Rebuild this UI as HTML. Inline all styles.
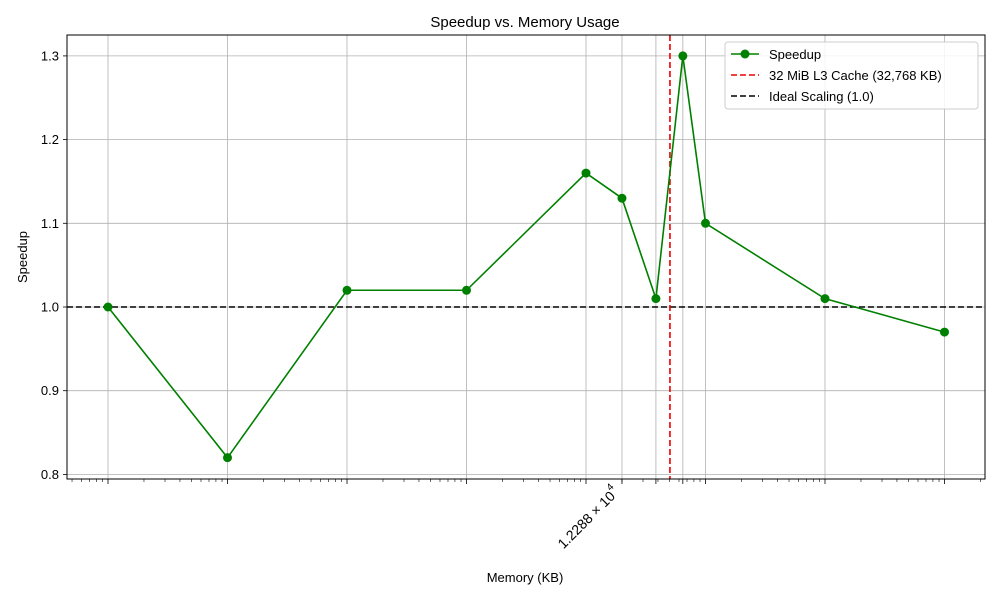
<!DOCTYPE html>
<html><head><meta charset="utf-8"><style>body{margin:0;background:#fff}svg{font-family:"Liberation Sans","DejaVu Sans",sans-serif}</style></head>
<body>
<svg id="chart" width="1000" height="600"></svg>
<script>
const memoryKB=[0.65,6.5,65,650,6500,13000,25000,42000,65000,650000,6500000];
const speedup=[1.0,0.82,1.02,1.02,1.16,1.13,1.01,1.30,1.10,1.01,0.97];
const yTicks=[0.8,0.9,1.0,1.1,1.2,1.3];
const cacheKB=32768;
const idealY=1.0;
const NS='http://www.w3.org/2000/svg';
const svg=document.getElementById('chart');
const L=67,R=985,T=35,B=479,PD=119.5;
const x=v=>108+Math.log10(v/memoryKB[0])*PD;
const y=v=>307-(v-1.0)*837;
function mk(tag,attrs,parent){const e=document.createElementNS(NS,tag);for(const k in attrs)e.setAttribute(k,attrs[k]);(parent||svg).appendChild(e);return e;}
const grid=mk('g',{});


memoryKB.forEach(v=>{mk('line',{x1:x(v),x2:x(v),y1:T,y2:B,stroke:'#b0b0b0','stroke-width':0.8},grid);mk('line',{x1:x(v),x2:x(v),y1:B,y2:B+5,stroke:'#000','stroke-width':0.8});});
for(let d=-1;d<8;d++)for(let m=2;m<10;m++){const v=memoryKB[0]*Math.pow(10,d)*m;const px=x(v);if(px>L&&px<R)mk('line',{x1:px,x2:px,y1:B,y2:B+3,stroke:'#000','stroke-width':0.6});}
yTicks.forEach(t=>{mk('line',{x1:L,x2:R,y1:y(t),y2:y(t),stroke:'#b0b0b0','stroke-width':0.8},grid);mk('line',{x1:L-4,x2:L,y1:y(t),y2:y(t),stroke:'#000','stroke-width':0.8});
const tl=mk('text',{x:L-8,y:y(t)+4.5,'text-anchor':'end','font-size':13});tl.textContent=t.toFixed(1);

});
const ideal=mk('line',{x1:L,x2:R,y1:y(idealY),y2:y(idealY),stroke:'#000','stroke-width':1.6,'stroke-dasharray':'6,3'});


const cache=mk('line',{x1:x(cacheKB),x2:x(cacheKB),y1:T,y2:B,stroke:'#e00','stroke-width':1.6,'stroke-dasharray':'6,3'});


const line=mk('polyline',{points:memoryKB.map((v,i)=>x(v)+','+y(speedup[i])).join(' '),fill:'none',stroke:'#008000','stroke-width':1.6});


memoryKB.forEach((v,i)=>{const c=mk('circle',{cx:x(v),cy:y(speedup[i]),r:4.5,fill:'#008000'});

});
const frame=mk('rect',{x:L,y:T,width:R-L,height:B-T,fill:'none',stroke:'#000','stroke-width':1});


const xl=mk('text',{transform:`translate(${x(13000)-2},${B+14}) rotate(-45)`,'text-anchor':'end','font-size':14});
xl.innerHTML='1.2288 × 10<tspan dy="-8" font-size="10">4</tspan>';


</script>
<svg width="1000" height="600" style="position:absolute;left:0;top:0">
<text x="525" y="27" text-anchor="middle" font-size="15">Speedup vs. Memory Usage</text>
<text x="525" y="582" text-anchor="middle" font-size="13">Memory (KB)</text>
<text transform="translate(27,257) rotate(-90)" text-anchor="middle" font-size="13">Speedup</text>
<g>
<rect x="725" y="42" width="253" height="67" rx="3" fill="#fff" fill-opacity="0.85" stroke="#ccc"/>
<g><line x1="731" x2="759" y1="54" y2="54" stroke="#008000" stroke-width="1.6"/><circle cx="745" cy="54" r="4.5" fill="#008000"/><text x="769" y="59" font-size="13">Speedup</text></g>
<g><line x1="731" x2="759" y1="75" y2="75" stroke="#e00" stroke-width="1.6" stroke-dasharray="6,3"/><text x="769" y="80" font-size="13">32 MiB L3 Cache (32,768 KB)</text></g>
<g><line x1="731" x2="759" y1="96" y2="96" stroke="#000" stroke-width="1.6" stroke-dasharray="6,3"/><text x="769" y="101" font-size="13">Ideal Scaling (1.0)</text></g>
</g>
</svg>
</body></html>
